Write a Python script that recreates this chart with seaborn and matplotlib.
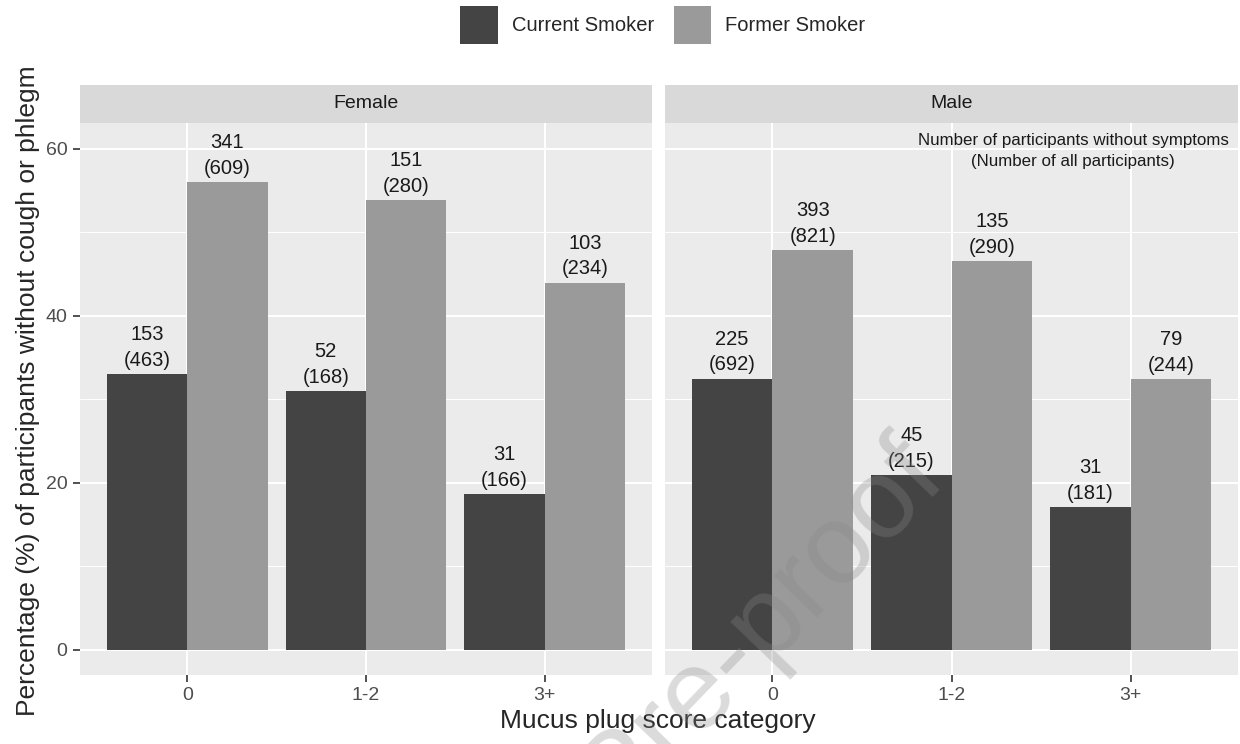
import pandas as pd
import numpy as np
import matplotlib
matplotlib.use('Agg')
import matplotlib.pyplot as plt
import seaborn as sns
from matplotlib.patches import Patch

sns.set_style("white")
plt.rcParams['font.family'] = ['Liberation Sans', 'DejaVu Sans']

# ==================== DATA ====================
categories = ['0', '1-2', '3+']
sexes = ['Female', 'Male']
smokers = ['Current Smoker', 'Former Smoker']

# percentage without cough or phlegm, per sex, order: category x smoker
female_current = [33.0, 31.0, 18.7]
female_former = [56.0, 53.9, 44.0]
male_current = [32.5, 20.9, 17.1]
male_former = [47.9, 46.6, 32.4]

# participants without symptoms / all participants
female_current_n = [153, 52, 31]
female_current_total = [463, 168, 166]
female_former_n = [341, 151, 103]
female_former_total = [609, 280, 234]
male_current_n = [225, 45, 31]
male_current_total = [692, 215, 181]
male_former_n = [393, 135, 79]
male_former_total = [821, 290, 244]

rows = []
series = {
    ('Female', 'Current Smoker'): (female_current, female_current_n, female_current_total),
    ('Female', 'Former Smoker'): (female_former, female_former_n, female_former_total),
    ('Male', 'Current Smoker'): (male_current, male_current_n, male_current_total),
    ('Male', 'Former Smoker'): (male_former, male_former_n, male_former_total),
}
for (sex, smk), (pct, n, tot) in series.items():
    for c, p, a, b in zip(categories, pct, n, tot):
        rows.append({'sex': sex, 'smoker': smk, 'category': c, 'pct': p, 'n': a, 'total': b})
df = pd.DataFrame(rows)

colors = {'Current Smoker': '#444444', 'Former Smoker': '#9A9A9A'}

# ==================== FIGURE ====================
fig = plt.figure(figsize=(12.4, 7.44), dpi=100)
W, H = 1240, 744
panels_px = [(80, 652), (665, 1238)]
p_top, p_bot, s_top = 123, 675, 85

for i, sex in enumerate(sexes):
    x0, x1 = panels_px[i]
    ax = fig.add_axes([x0 / W, 1 - p_bot / H, (x1 - x0) / W, (p_bot - p_top) / H])
    sub = df[df['sex'] == sex]
    ax.set_facecolor('#EBEBEB')
    sns.barplot(data=sub, x='category', y='pct', hue='smoker', order=categories,
                hue_order=smokers, palette=colors, width=0.9, gap=0, ax=ax,
                legend=False, errorbar=None, saturation=1, linewidth=0, zorder=2)
    ax.set_xlim(-0.6, 2.6)
    ax.set_ylim(-3.0, 63.1)

    # grid like ggplot
    for y in [10, 30, 50]:
        ax.axhline(y, color='white', lw=0.7, zorder=1)
    for y in [0, 20, 40, 60]:
        ax.axhline(y, color='white', lw=1.5, zorder=1)
    for x in range(len(categories)):
        ax.axvline(x, color='white', lw=1.5, zorder=1)

    for sp in ax.spines.values():
        sp.set_visible(False)
    ax.set_xlabel('')
    ax.set_ylabel('')
    ax.set_yticks([0, 20, 40, 60])
    ax.tick_params(axis='both', length=5, width=1.2, color='#333333',
                   labelsize=14, labelcolor='#4D4D4D', pad=4)
    ax.tick_params(axis='y', left=True)
    ax.tick_params(axis='x', bottom=True)
    if i == 1:
        ax.tick_params(axis='y', left=False, labelleft=False)

    # bar labels
    for container, smk in zip(ax.containers, smokers):
        s = sub[sub['smoker'] == smk].set_index('category').loc[categories]
        for bar, (_, r) in zip(container, s.iterrows()):
            xc = bar.get_x() + bar.get_width() / 2
            ax.text(xc, bar.get_height() + 0.5, f"{r['n']}\n({r['total']})",
                    ha='center', va='bottom', fontsize=14.5, color='#1A1A1A',
                    linespacing=1.45, zorder=3)

    if sex == 'Male':
        ax.text(1.68, 59.7, 'Number of participants without symptoms\n(Number of all participants)',
                ha='center', va='center', fontsize=12.2, color='#1A1A1A', linespacing=1.5, zorder=3)

    # facet strip
    sax = fig.add_axes([x0 / W, 1 - p_top / H, (x1 - x0) / W, (p_top - s_top) / H])
    sax.set_facecolor('#D9D9D9')
    sax.set_xticks([])
    sax.set_yticks([])
    for sp in sax.spines.values():
        sp.set_visible(False)
    sax.text(0.5, 0.5, sex, ha='center', va='center', fontsize=14, color='#1A1A1A',
             transform=sax.transAxes)

# axis titles
fig.text(28 / W, 1 - 391 / H, 'Percentage (%) of participants without cough or phlegm',
         rotation=90, ha='center', va='center', fontsize=19)
fig.text(658 / W, 1 - 721 / H, 'Mucus plug score category', ha='center', va='center', fontsize=19)

# legend
handles = [Patch(facecolor=colors[s], edgecolor='none', label=s) for s in smokers]
fig.legend(handles=handles, loc='center', bbox_to_anchor=(663 / W, 1 - 25 / H), ncol=2,
           frameon=False, fontsize=14.5, handlelength=1.85, handleheight=2.49,
           columnspacing=1.0, handletextpad=0.7)

# watermark
fig.text(949 / W, 1 - 482 / H, 'Journal Pre-proof', rotation=46, rotation_mode='anchor',
         ha='right', va='baseline', fontsize=82, color='#888888', alpha=0.3, zorder=10)

plt.savefig('out.png', dpi=100)
